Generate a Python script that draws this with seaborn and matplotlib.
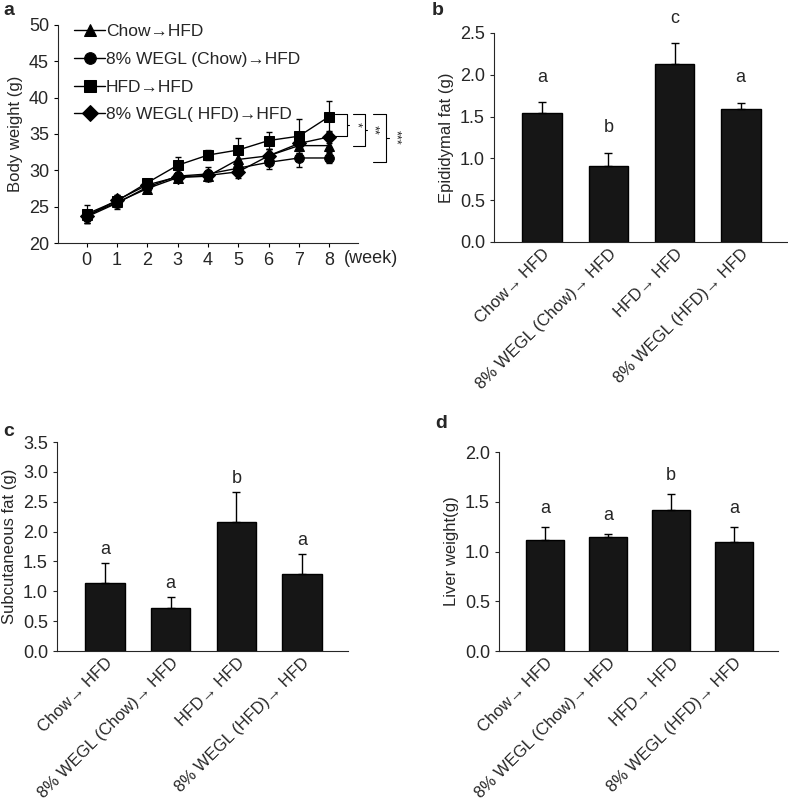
import numpy as np
import pandas as pd
import matplotlib.pyplot as plt
import seaborn as sns

sns.set_style("ticks")
plt.rcParams['font.family'] = ['Liberation Sans', 'DejaVu Sans']

# ---- data ----
weeks = [0, 1, 2, 3, 4, 5, 6, 7, 8]
line_groups = ["Chow\u2192HFD", "8% WEGL (Chow)\u2192HFD", "HFD\u2192HFD", "8% WEGL( HFD)\u2192HFD"]
line_markers = ["^", "o", "s", "D"]
chow_hfd = [23.8, 25.6, 27.5, 29.0, 29.2, 31.5, 32.0, 33.4, 33.4]
wegl_chow = [23.6, 25.5, 27.7, 29.2, 29.5, 30.3, 31.1, 31.7, 31.7]
hfd_hfd = [24.0, 25.8, 28.3, 30.7, 32.1, 32.8, 34.1, 34.7, 37.4]
wegl_hfd = [23.7, 25.9, 28.0, 29.1, 29.3, 29.8, 32.0, 33.7, 34.6]
chow_hfd_err = [0.8, 0.7, 0.6, 0.6, 0.6, 0.8, 0.9, 1.0, 0.9]
wegl_chow_err = [0.8, 0.8, 0.7, 0.6, 0.9, 0.8, 0.9, 1.2, 0.7]
hfd_hfd_err = [1.2, 0.8, 0.5, 1.2, 0.7, 1.6, 1.2, 2.3, 2.1]
wegl_hfd_err = [0.9, 0.7, 0.6, 0.7, 0.8, 0.8, 0.9, 0.9, 0.8]

bar_groups = ["Chow\u2192 HFD", "8% WEGL (Chow)\u2192 HFD", "HFD\u2192 HFD", "8% WEGL (HFD)\u2192 HFD"]
epi_fat = [1.54, 0.905, 2.125, 1.59]
epi_err = [0.13, 0.16, 0.25, 0.07]
epi_letters = ["a", "b", "c", "a"]
sub_fat = [1.14, 0.72, 2.16, 1.29]
sub_err = [0.34, 0.19, 0.50, 0.34]
sub_letters = ["a", "a", "b", "a"]
liver = [1.116, 1.143, 1.422, 1.096]
liver_err = [0.13, 0.035, 0.16, 0.15]
liver_letters = ["a", "a", "b", "a"]

fig = plt.figure(figsize=(7.88, 8.06), dpi=100)

# ---- a. body weight over time ----
ax = fig.add_axes([0.0736, 0.6985, 0.3807, 0.2705])
series = [chow_hfd, wegl_chow, hfd_hfd, wegl_hfd]
errs = [chow_hfd_err, wegl_chow_err, hfd_hfd_err, wegl_hfd_err]
long_df = pd.DataFrame({
    "week": weeks * 4,
    "weight": sum(series, []),
    "group": [g for g in line_groups for _ in weeks],
})
sns.lineplot(data=long_df, x="week", y="weight", style="group", style_order=line_groups,
             markers=dict(zip(line_groups, line_markers)), dashes=False, color="black",
             markersize=7, linewidth=1, markeredgecolor="black", ax=ax)
for vals, e in zip(series, errs):
    ax.errorbar(weeks, vals, yerr=e, fmt="none", ecolor="black", elinewidth=0.9, capsize=2.5)
ax.set_xlim(-0.95, 8.95)
ax.set_ylim(20, 50)
ax.set_xticks(weeks)
ax.set_yticks(range(20, 51, 5))
ax.set_xlabel("")
ax.set_ylabel("Body weight (g)", fontsize=12)
ax.tick_params(labelsize=13, length=3, color="black")
ax.text(8.5, -0.032, "(week)", transform=ax.get_xaxis_transform(), fontsize=13, ha="left", va="top")
leg = ax.legend(loc="upper left", frameon=False, fontsize=12.5, handlelength=1.8,
                labelspacing=0.72, handletextpad=0.05, borderaxespad=0.0,
                markerscale=1.2, bbox_to_anchor=(0.03, 1.035))
# significance brackets
for x0, x1, ylow, stars in [(8.18, 8.58, 34.7, "*"), (8.78, 9.17, 33.4, "**"), (9.45, 9.88, 31.2, "***")]:
    ytop = 37.8
    ymid = (ytop + ylow) / 2
    ax.plot([x0, x1, x1, x0], [ytop, ytop, ylow, ylow], color="black", lw=0.8, clip_on=False)
    ax.plot([x1, x1 + 0.08], [ymid, ymid], color="black", lw=0.8, clip_on=False)
    ax.text(x1 + 0.1, ymid, stars, rotation=-90, fontsize=9, ha="left", va="center", clip_on=False)
for s in ["top", "right"]:
    ax.spines[s].set_visible(False)
fig.text(0.004, 0.997, "a", fontsize=14, fontweight="bold", va="top")


def bar_panel(rect, vals, err, letters, ymax, step, ylabel, letter_off, label, label_pos):
    bx = fig.add_axes(rect)
    df = pd.DataFrame({"group": bar_groups, "value": vals})
    sns.barplot(data=df, x="group", y="value", color="#161616", edgecolor="black",
                width=0.6, errorbar=None, ax=bx)
    bx.errorbar(range(4), vals, yerr=[np.zeros(4), err], fmt="none", ecolor="black",
                elinewidth=1, capsize=3)
    for i, (v, e, l) in enumerate(zip(vals, err, letters)):
        bx.text(i, v + e + letter_off, l, ha="center", va="bottom", fontsize=13)
    bx.set_xlim(-0.73, 3.7)
    bx.set_ylim(0, ymax)
    bx.set_yticks(np.arange(0, ymax + 0.001, step))
    bx.yaxis.set_major_formatter(plt.FormatStrFormatter("%.1f"))
    bx.set_xlabel("")
    bx.set_ylabel(ylabel, fontsize=12)
    bx.tick_params(axis="y", labelsize=13, length=3)
    bx.tick_params(axis="x", length=0, pad=3)
    plt.setp(bx.get_xticklabels(), rotation=45, ha="right", rotation_mode="anchor", fontsize=12)
    for s in ["top", "right"]:
        bx.spines[s].set_visible(False)
    fig.text(label_pos[0], label_pos[1], label, fontsize=14, fontweight="bold", va="top")
    return bx


bar_panel([0.6269, 0.6998, 0.3718, 0.2593], epi_fat, epi_err, epi_letters, 2.5, 0.5,
          "Epididymal fat (g)", 0.2, "b", (0.548, 0.997))
bar_panel([0.0723, 0.1923, 0.3693, 0.2593], sub_fat, sub_err, sub_letters, 3.5, 0.5,
          "Subcutaneous fat (g)", 0.08, "c", (0.004, 0.475))
bar_panel([0.6332, 0.1923, 0.3541, 0.2469], liver, liver_err, liver_letters, 2.0, 0.5,
          "Liver weight(g)", 0.1, "d", (0.552, 0.485))

fig.savefig("out.png", dpi=100)
